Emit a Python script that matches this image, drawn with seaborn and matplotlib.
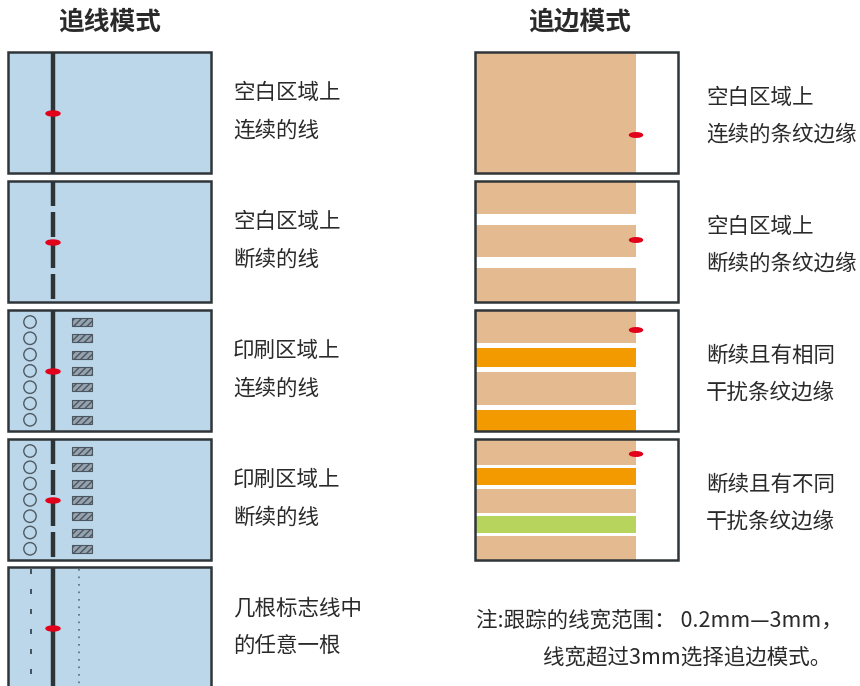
import matplotlib
matplotlib.use("Agg")
import matplotlib.pyplot as plt
from matplotlib.patches import Rectangle, Ellipse
import seaborn as sns
import pandas as pd
import numpy as np

sns.set_theme(style="white")
plt.rcParams['font.family'] = ['Noto Sans CJK SC', 'DejaVu Sans']

# ---------------- data ----------------
titles = ["追线模式", "追边模式"]
left_labels = [("空白区域上", "连续的线"),
               ("空白区域上", "断续的线"),
               ("印刷区域上", "连续的线"),
               ("印刷区域上", "断续的线"),
               ("几根标志线中", "的任意一根")]
left_solid = [True, False, True, False, True]
left_print = [False, False, True, True, False]
left_marks = [False, False, False, False, True]

right_labels = [("空白区域上", "连续的条纹边缘"),
                ("空白区域上", "断续的条纹边缘"),
                ("断续且有相同", "干扰条纹边缘"),
                ("断续且有不同", "干扰条纹边缘")]
# stripe sequences (kind, height in panel units)
right_stripes = [
    [("tan", 121)],
    [("tan", 33), ("gap", 11), ("tan", 32), ("gap", 11), ("tan", 34)],
    [("tan", 33), ("gap", 5), ("orange", 19), ("gap", 5), ("tan", 33), ("gap", 5), ("orange", 21)],
    [("tan", 26), ("gap", 3), ("orange", 17), ("gap", 4), ("tan", 24), ("gap", 3), ("green", 17), ("gap", 3), ("tan", 24)],
]
right_red_y = [83, 59, 20, 15]   # offset of the tracking mark from panel top
note_lines = ["注:跟踪的线宽范围： 0.2mm—3mm，", "线宽超过3mm选择追边模式。"]

# ---------------- style ----------------
BLUE = "#bcd7ea"
FRAME = "#2f3538"
LINE = "#2e3336"
RED = "#e2001a"
COLORS = {"tan": "#e4bb91", "orange": "#f29a00", "green": "#b7d55d", "gap": "#ffffff"}
TEXT = "#2a2a2a"
LFS = 15.5

fig = plt.figure(figsize=(8.6, 6.86), dpi=100)
ax = fig.add_axes([0, 0, 1, 1])
ax.set_xlim(0, 860)
ax.set_ylim(686, 0)
ax.axis("off")

panel_top = [52, 181, 310, 439, 567]
PH = 121

# titles
ax.text(110, 22, titles[0], ha="center", va="center", fontsize=18.5, fontweight="bold", color=TEXT)
ax.text(580, 22, titles[1], ha="center", va="center", fontsize=18.5, fontweight="bold", color=TEXT)

circ_pts = []
for i, top in enumerate(panel_top):
    h = PH if i < 4 else 140
    ax.add_patch(Rectangle((8, top), 203, h, facecolor=BLUE, edgecolor=FRAME, lw=1.8, zorder=1))
    lx = 53
    if left_print[i]:
        ys = top + 12 + np.arange(7) * 16.3
        for y in ys:
            circ_pts.append((30, y))
            ax.add_patch(Rectangle((72, y - 4), 20, 8, facecolor="#95a3ae", edgecolor="#4a5660",
                                   lw=0.8, hatch="/////", zorder=2))
    if left_marks[i]:
        ax.plot([31, 31], [top + 2, 686], color="#2d3a46", lw=1.2, ls=(0, (3, 9)), zorder=2)
        ax.plot([79, 79], [top + 2, 686], color="#5a6a78", lw=1.2, ls=(0, (1, 3.5)), zorder=2)
    if left_solid[i]:
        ax.plot([lx, lx], [top, top + h], color=LINE, lw=3.2, solid_capstyle="butt", zorder=3)
    else:
        start = top
        while start < top + PH:
            end = min(start + 25, top + PH)
            ax.plot([lx, lx], [start, end], color=LINE, lw=3.2, solid_capstyle="butt", zorder=3)
            start += 31
    ax.add_patch(Ellipse((lx, top + PH / 2 + 1), 14, 5, color=RED, zorder=4))
    l1, l2 = left_labels[i]
    ax.text(233, top + 41, l1, ha="left", va="center", fontsize=LFS, color=TEXT)
    ax.text(233, top + 79, l2, ha="left", va="center", fontsize=LFS, color=TEXT)

if circ_pts:
    cdf = pd.DataFrame(circ_pts, columns=["x", "y"])
    sns.scatterplot(data=cdf, x="x", y="y", ax=ax, s=80, marker="o",
                    facecolor="none", edgecolor="#4f5a63", linewidth=1.0, zorder=3, legend=False)

for i, stripes in enumerate(right_stripes):
    top = panel_top[i]
    ax.add_patch(Rectangle((475, top), 203, PH, facecolor="white", edgecolor="none", zorder=1))
    y = top
    for kind, hgt in stripes:
        ax.add_patch(Rectangle((476, y), 160, hgt, facecolor=COLORS[kind], edgecolor="none", zorder=2))
        y += hgt
    ax.add_patch(Rectangle((475, top), 203, PH, facecolor="none", edgecolor=FRAME, lw=1.8, zorder=3))
    ax.add_patch(Ellipse((636, top + right_red_y[i]), 13, 4.5, color=RED, zorder=4))
    r1, r2 = right_labels[i]
    ax.text(706, top + 46, r1, ha="left", va="center", fontsize=LFS, color=TEXT)
    ax.text(706, top + 83, r2, ha="left", va="center", fontsize=LFS, color=TEXT)

ax.text(476, 620, note_lines[0], ha="left", va="center", fontsize=15.5, color=TEXT)
ax.text(543, 657, note_lines[1], ha="left", va="center", fontsize=15.5, color=TEXT)

fig.savefig("out.png", dpi=100)
